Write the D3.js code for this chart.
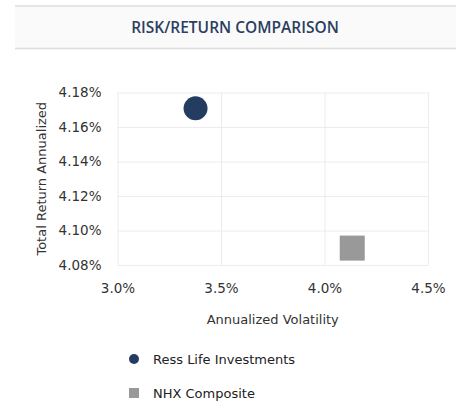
<!DOCTYPE html>
<html>
<head>
<meta charset="utf-8">
<script src="https://cdn.jsdelivr.net/npm/d3@7"></script>
<style>
  body { margin: 0; background: #fff; }
  svg { display: block; }
</style>
</head>
<body>
<svg id="chart"></svg>
<script>
// Data
const seriesNames = ['Ress Life Investments', 'NHX Composite'];
const volatility = [3.377, 4.134];   // %
const totalReturn = [4.1708, 4.0898]; // %
const seriesColors = ['#253c61', '#999999'];
const seriesShapes = ['circle', 'square'];
const xTicks = [3.0, 3.5, 4.0, 4.5];
const yTicks = [4.08, 4.10, 4.12, 4.14, 4.16, 4.18];

const width = 461, height = 406;
const margin = { top: 92.5, right: 33, bottom: 141, left: 117.5 };
const innerW = width - margin.left - margin.right;
const innerH = height - margin.top - margin.bottom;
const font = '"DejaVu Sans", Verdana, sans-serif';

const svg = d3.select('#chart')
  .attr('width', width)
  .attr('height', height);

// Header band
svg.append('rect')
  .attr('x', 15).attr('y', 6)
  .attr('width', 441).attr('height', 42.5)
  .attr('fill', '#fafafa');
svg.append('line')
  .attr('x1', 15).attr('x2', 456).attr('y1', 6).attr('y2', 6)
  .attr('stroke', '#dcdcdc').attr('stroke-width', 1.5);
svg.append('line')
  .attr('x1', 15).attr('x2', 456).attr('y1', 48.5).attr('y2', 48.5)
  .attr('stroke', '#dcdcdc').attr('stroke-width', 1.5);
svg.append('text')
  .attr('x', 235).attr('y', 32.5)
  .attr('text-anchor', 'middle')
  .attr('font-family', '"Open Sans", sans-serif')
  .attr('font-size', '15.5px')
  .attr('font-weight', 600)
  .attr('fill', '#2c3e60')
  .text('RISK/RETURN COMPARISON');

const x = d3.scaleLinear().domain([3.0, 4.5]).range([0, innerW]);
const y = d3.scaleLinear().domain([4.08, 4.18]).range([innerH, 0]);

const g = svg.append('g').attr('transform', `translate(${margin.left},${margin.top})`);

// Grid
g.append('g')
  .call(d3.axisBottom(x).tickValues(xTicks).tickSize(innerH).tickFormat(''))
  .call(a => a.select('.domain').remove())
  .call(a => a.selectAll('line').attr('stroke', '#ececec'));
g.append('g')
  .call(d3.axisLeft(y).tickValues(yTicks).tickSize(-innerW).tickFormat(''))
  .call(a => a.select('.domain').remove())
  .call(a => a.selectAll('line').attr('stroke', '#ececec'));

// Axis labels
const xAxis = g.append('g')
  .attr('transform', `translate(0,${innerH})`)
  .call(d3.axisBottom(x).tickValues(xTicks).tickSize(0).tickPadding(18).tickFormat(d => d.toFixed(1) + '%'));
xAxis.select('.domain').remove();
xAxis.selectAll('text').attr('font-family', font).attr('font-size', '13.5px').attr('fill', '#333');

const yAxis = g.append('g')
  .call(d3.axisLeft(y).tickValues(yTicks).tickSize(0).tickPadding(16).tickFormat(d => d.toFixed(2) + '%'));
yAxis.select('.domain').remove();
yAxis.selectAll('text').attr('font-family', font).attr('font-size', '13.5px').attr('fill', '#333');

// Axis titles
svg.append('text')
  .attr('x', margin.left + innerW / 2).attr('y', 324)
  .attr('text-anchor', 'middle')
  .attr('font-family', font).attr('font-size', '13px').attr('fill', '#333')
  .text('Annualized Volatility');
svg.append('text')
  .attr('transform', `translate(46,${margin.top + innerH / 2}) rotate(-90)`)
  .attr('text-anchor', 'middle')
  .attr('font-family', font).attr('font-size', '13px').attr('fill', '#333')
  .text('Total Return Annualized');

// Points
seriesNames.forEach((name, i) => {
  const cx = x(volatility[i]), cy = y(totalReturn[i]);
  if (seriesShapes[i] === 'circle') {
    g.append('circle').attr('cx', cx).attr('cy', cy).attr('r', 12).attr('fill', seriesColors[i]);
  } else {
    g.append('rect').attr('x', cx - 12.5).attr('y', cy - 12.5)
      .attr('width', 25).attr('height', 25).attr('fill', seriesColors[i]);
  }
});

// Legend
const legend = svg.append('g').attr('transform', 'translate(134,359)');
seriesNames.forEach((name, i) => {
  const row = legend.append('g').attr('transform', `translate(0,${i * 34})`);
  if (seriesShapes[i] === 'circle') {
    row.append('circle').attr('r', 5).attr('fill', seriesColors[i]);
  } else {
    row.append('rect').attr('x', -5).attr('y', -5).attr('width', 10).attr('height', 10).attr('fill', seriesColors[i]);
  }
  row.append('text')
    .attr('x', 19).attr('dy', '0.35em')
    .attr('font-family', font).attr('font-size', '13px').attr('fill', '#222')
    .text(name);
});
</script>
</body>
</html>
